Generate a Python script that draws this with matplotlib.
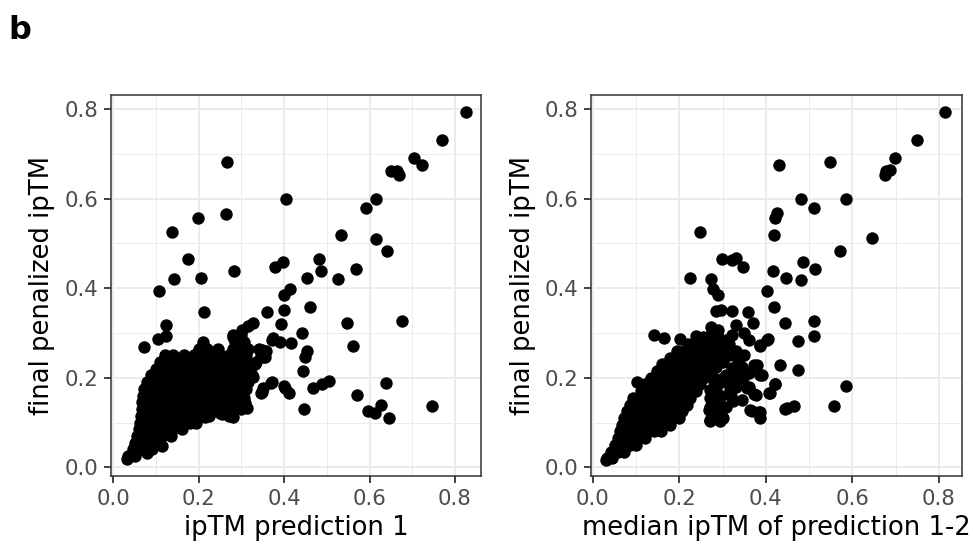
import matplotlib
matplotlib.use("Agg")
import matplotlib.pyplot as plt
from matplotlib.ticker import MultipleLocator, FormatStrFormatter

plt.rcParams['font.family'] = ['DejaVu Sans']

# ---------------- data ----------------
# Panel 1: ipTM prediction 1 vs final penalized ipTM -- individually readable points
p1_x = [0.826, 0.770, 0.704, 0.724, 0.650, 0.664, 0.668, 0.267, 0.404, 0.614, 0.592, 0.199, 0.264, 0.137,
        0.534, 0.615, 0.642, 0.174, 0.481, 0.379, 0.397, 0.486, 0.569, 0.283, 0.142, 0.205, 0.454, 0.525,
        0.106, 0.414, 0.400, 0.212, 0.360, 0.400, 0.461, 0.548, 0.677, 0.393, 0.123, 0.443, 0.073, 0.561,
        0.373, 0.415, 0.390, 0.326, 0.358, 0.351, 0.454, 0.450, 0.445, 0.326, 0.332, 0.504, 0.489, 0.467,
        0.370, 0.351, 0.345, 0.400, 0.411, 0.639, 0.570, 0.626, 0.597, 0.612, 0.645, 0.746, 0.447, 0.308,
        0.312, 0.306, 0.281, 0.251, 0.194, 0.215, 0.115, 0.080, 0.033,
        0.301, 0.281, 0.371, 0.348, 0.355, 0.305, 0.371, 0.348, 0.402, 0.254, 0.104, 0.123, 0.316]
p1_y = [0.794, 0.731, 0.691, 0.674, 0.662, 0.662, 0.653, 0.682, 0.598, 0.598, 0.578, 0.557, 0.566, 0.525,
        0.519, 0.510, 0.483, 0.465, 0.465, 0.448, 0.458, 0.438, 0.442, 0.439, 0.420, 0.423, 0.423, 0.420,
        0.393, 0.399, 0.384, 0.347, 0.346, 0.351, 0.357, 0.323, 0.327, 0.320, 0.318, 0.299, 0.268, 0.271,
        0.288, 0.278, 0.280, 0.323, 0.260, 0.247, 0.260, 0.246, 0.214, 0.202, 0.231, 0.193, 0.186, 0.176,
        0.189, 0.176, 0.165, 0.182, 0.167, 0.188, 0.161, 0.138, 0.126, 0.122, 0.110, 0.137, 0.130, 0.144,
        0.132, 0.154, 0.112, 0.121, 0.098, 0.113, 0.048, 0.031, 0.018,
        0.307, 0.291, 0.284, 0.262, 0.247, 0.225, 0.191, 0.169, 0.176, 0.120, 0.287, 0.293, 0.316]

# Panel 1 dense cluster, estimated row by row (final penalized ipTM level -> ipTM prediction 1 values)
p1_rows_y = [0.025, 0.040, 0.055, 0.070, 0.085, 0.100, 0.115, 0.130, 0.145, 0.160, 0.175,
             0.190, 0.205, 0.220, 0.235, 0.250, 0.265, 0.280, 0.295]
p1_rows_x = [
    [0.035, 0.050],
    [0.045, 0.060, 0.075, 0.090],
    [0.050, 0.065, 0.085, 0.100],
    [0.055, 0.075, 0.095, 0.115, 0.135],
    [0.060, 0.080, 0.100, 0.120, 0.140, 0.160],
    [0.062, 0.080, 0.100, 0.120, 0.140, 0.160, 0.180],
    [0.065, 0.085, 0.105, 0.125, 0.145, 0.165, 0.185, 0.205, 0.225, 0.270],
    [0.067, 0.085, 0.105, 0.125, 0.145, 0.165, 0.185, 0.205, 0.225, 0.245, 0.265, 0.285, 0.300],
    [0.068, 0.090, 0.110, 0.130, 0.150, 0.170, 0.190, 0.210, 0.230, 0.250, 0.270, 0.290],
    [0.070, 0.090, 0.110, 0.130, 0.150, 0.170, 0.190, 0.210, 0.230, 0.250, 0.270, 0.290],
    [0.072, 0.090, 0.110, 0.130, 0.150, 0.170, 0.190, 0.210, 0.230, 0.250, 0.270, 0.290, 0.310],
    [0.078, 0.095, 0.115, 0.135, 0.155, 0.175, 0.195, 0.215, 0.235, 0.255, 0.275, 0.295, 0.315],
    [0.088, 0.105, 0.125, 0.145, 0.165, 0.185, 0.205, 0.225, 0.245, 0.265, 0.285, 0.305, 0.325],
    [0.100, 0.120, 0.140, 0.160, 0.180, 0.200, 0.220, 0.240, 0.260, 0.280, 0.300, 0.320],
    [0.110, 0.130, 0.150, 0.170, 0.190, 0.210, 0.230, 0.250, 0.270, 0.290, 0.310, 0.335],
    [0.120, 0.140, 0.165, 0.190, 0.210, 0.230, 0.250, 0.270, 0.290, 0.310, 0.345],
    [0.200, 0.220, 0.245, 0.280, 0.300, 0.315, 0.340],
    [0.210, 0.285, 0.305],
    [0.280, 0.300],
]

# Panel 2: median ipTM of prediction 1-2 vs final penalized ipTM -- individually readable points
p2_x = [0.814, 0.750, 0.698, 0.678, 0.687, 0.676, 0.547, 0.430, 0.482, 0.584, 0.511, 0.425, 0.421, 0.247,
        0.418, 0.646, 0.572, 0.299, 0.321, 0.330, 0.348, 0.486, 0.416, 0.513, 0.447, 0.482, 0.225, 0.273,
        0.277, 0.290, 0.403, 0.418, 0.444, 0.510, 0.512, 0.475, 0.475, 0.432, 0.421, 0.407, 0.586, 0.558,
        0.464, 0.444, 0.387, 0.385, 0.368, 0.293, 0.270, 0.102, 0.140, 0.164, 0.202, 0.239, 0.285, 0.297,
        0.321, 0.359, 0.371, 0.330, 0.405, 0.387, 0.380, 0.390, 0.376, 0.355, 0.331, 0.324, 0.301, 0.268,
        0.031,
        0.274, 0.289, 0.307, 0.322, 0.349, 0.360, 0.402, 0.387, 0.349, 0.373, 0.322, 0.307, 0.385, 0.347,
        0.360, 0.373, 0.420, 0.409, 0.270, 0.284, 0.316, 0.330, 0.270, 0.286, 0.307, 0.301, 0.270, 0.364,
        0.383, 0.448, 0.290, 0.295, 0.280, 0.300, 0.330, 0.315, 0.280, 0.295, 0.310, 0.320, 0.285, 0.300,
        0.270, 0.340, 0.335, 0.345, 0.360, 0.335, 0.320, 0.345, 0.290, 0.280, 0.262, 0.300]
p2_y = [0.794, 0.731, 0.691, 0.662, 0.664, 0.653, 0.682, 0.675, 0.598, 0.598, 0.578, 0.567, 0.557, 0.525,
        0.519, 0.511, 0.483, 0.465, 0.463, 0.468, 0.448, 0.458, 0.438, 0.442, 0.423, 0.418, 0.422, 0.420,
        0.398, 0.385, 0.393, 0.357, 0.323, 0.327, 0.293, 0.281, 0.217, 0.228, 0.186, 0.165, 0.182, 0.137,
        0.137, 0.130, 0.109, 0.124, 0.126, 0.104, 0.104, 0.190, 0.295, 0.288, 0.286, 0.294, 0.348, 0.351,
        0.348, 0.346, 0.323, 0.318, 0.286, 0.271, 0.228, 0.206, 0.161, 0.176, 0.186, 0.147, 0.132, 0.128,
        0.016,
        0.314, 0.306, 0.284, 0.295, 0.299, 0.284, 0.284, 0.273, 0.250, 0.228, 0.221, 0.206, 0.206, 0.200,
        0.180, 0.163, 0.187, 0.165, 0.173, 0.173, 0.173, 0.180, 0.135, 0.117, 0.135, 0.109, 0.106, 0.128,
        0.124, 0.132, 0.150, 0.190, 0.200, 0.235, 0.260, 0.250, 0.140, 0.160, 0.190, 0.200, 0.225, 0.250,
        0.155, 0.210, 0.235, 0.225, 0.210, 0.195, 0.160, 0.150, 0.130, 0.190, 0.210, 0.200]

# Panel 2 dense cluster, estimated row by row
p2_rows_y = [0.020, 0.035, 0.050, 0.065, 0.080, 0.095, 0.110, 0.125, 0.140, 0.155, 0.170,
             0.185, 0.200, 0.215, 0.230, 0.245, 0.260, 0.275, 0.290, 0.305]
p2_rows_x = [
    [0.033, 0.045],
    [0.042, 0.058, 0.072],
    [0.052, 0.068, 0.085, 0.100],
    [0.058, 0.075, 0.090, 0.105, 0.120],
    [0.063, 0.080, 0.095, 0.110, 0.125, 0.140, 0.158],
    [0.068, 0.085, 0.100, 0.115, 0.130, 0.145, 0.160, 0.178],
    [0.072, 0.088, 0.105, 0.120, 0.135, 0.150, 0.165, 0.180, 0.198],
    [0.078, 0.095, 0.110, 0.125, 0.140, 0.155, 0.170, 0.185, 0.205],
    [0.085, 0.100, 0.115, 0.130, 0.145, 0.160, 0.175, 0.190, 0.205, 0.218],
    [0.092, 0.108, 0.122, 0.138, 0.152, 0.168, 0.182, 0.198, 0.212, 0.225],
    [0.110, 0.125, 0.140, 0.155, 0.170, 0.185, 0.200, 0.215, 0.230, 0.238],
    [0.120, 0.135, 0.150, 0.165, 0.180, 0.195, 0.210, 0.225, 0.240, 0.248],
    [0.135, 0.150, 0.165, 0.180, 0.195, 0.210, 0.225, 0.240, 0.255],
    [0.148, 0.163, 0.178, 0.193, 0.208, 0.223, 0.238, 0.253, 0.265],
    [0.160, 0.175, 0.190, 0.205, 0.220, 0.235, 0.250, 0.265, 0.278],
    [0.178, 0.193, 0.208, 0.223, 0.238, 0.253, 0.268, 0.285],
    [0.195, 0.210, 0.225, 0.240, 0.255, 0.270, 0.285, 0.300],
    [0.220, 0.240, 0.260, 0.280, 0.300, 0.315],
    [0.255, 0.270, 0.290],
    [0.275],
]

panel_xlabels = ["ipTM prediction 1", "median ipTM of prediction 1-2"]
y_label = "final penalized ipTM"
panel_tag = "b"


def expand(xs, ys, rows_y, rows_x):
    ax_, ay_ = list(xs), list(ys)
    for yv, row in zip(rows_y, rows_x):
        for xv in row:
            ax_.append(xv)
            ay_.append(yv)
    return ax_, ay_


W, H = 973, 552
fig = plt.figure(figsize=(W / 100, H / 100), dpi=100)

panels = [
    dict(left=111, right=481, xlim=(-0.0054, 0.861),
         data=expand(p1_x, p1_y, p1_rows_y, p1_rows_x)),
    dict(left=591.3, right=962, xlim=(-0.0039, 0.8532),
         data=expand(p2_x, p2_y, p2_rows_y, p2_rows_x)),
]
top_px, bot_px = 95, 476

for i, p in enumerate(panels):
    ax = fig.add_axes([p['left'] / W, 1 - bot_px / H,
                       (p['right'] - p['left']) / W, (bot_px - top_px) / H])
    ax.set_xlim(*p['xlim'])
    ax.set_ylim(-0.0194, 0.8312)
    ax.set_facecolor('white')
    ax.xaxis.set_major_locator(MultipleLocator(0.2))
    ax.yaxis.set_major_locator(MultipleLocator(0.2))
    ax.xaxis.set_minor_locator(MultipleLocator(0.1))
    ax.yaxis.set_minor_locator(MultipleLocator(0.1))
    ax.xaxis.set_major_formatter(FormatStrFormatter('%.1f'))
    ax.yaxis.set_major_formatter(FormatStrFormatter('%.1f'))
    ax.grid(which='major', color='#EBEBEB', linewidth=1.4)
    ax.grid(which='minor', color='#EBEBEB', linewidth=0.7)
    ax.set_axisbelow(True)
    for s in ax.spines.values():
        s.set_color('#333333')
        s.set_linewidth(1.1)
    ax.tick_params(which='major', direction='out', length=5.3, width=1.3,
                   color='#333333', labelcolor='#4D4D4D', labelsize=15.3, pad=3.8)
    ax.tick_params(which='minor', length=0)
    xs, ys = p['data']
    ax.scatter(xs, ys, s=80, c='black', linewidths=0, zorder=3, clip_on=False)
    ax.set_xlabel(panel_xlabels[i], fontsize=18.6, color='black', labelpad=4.5)
    ax.set_ylabel(y_label, fontsize=18.6, color='black', labelpad=6.5)

fig.text(8 / W, 1 - 39 / H, panel_tag, fontsize=23, fontweight='bold',
         ha='left', va='baseline')

fig.savefig('out.png', dpi=100, facecolor='white')
